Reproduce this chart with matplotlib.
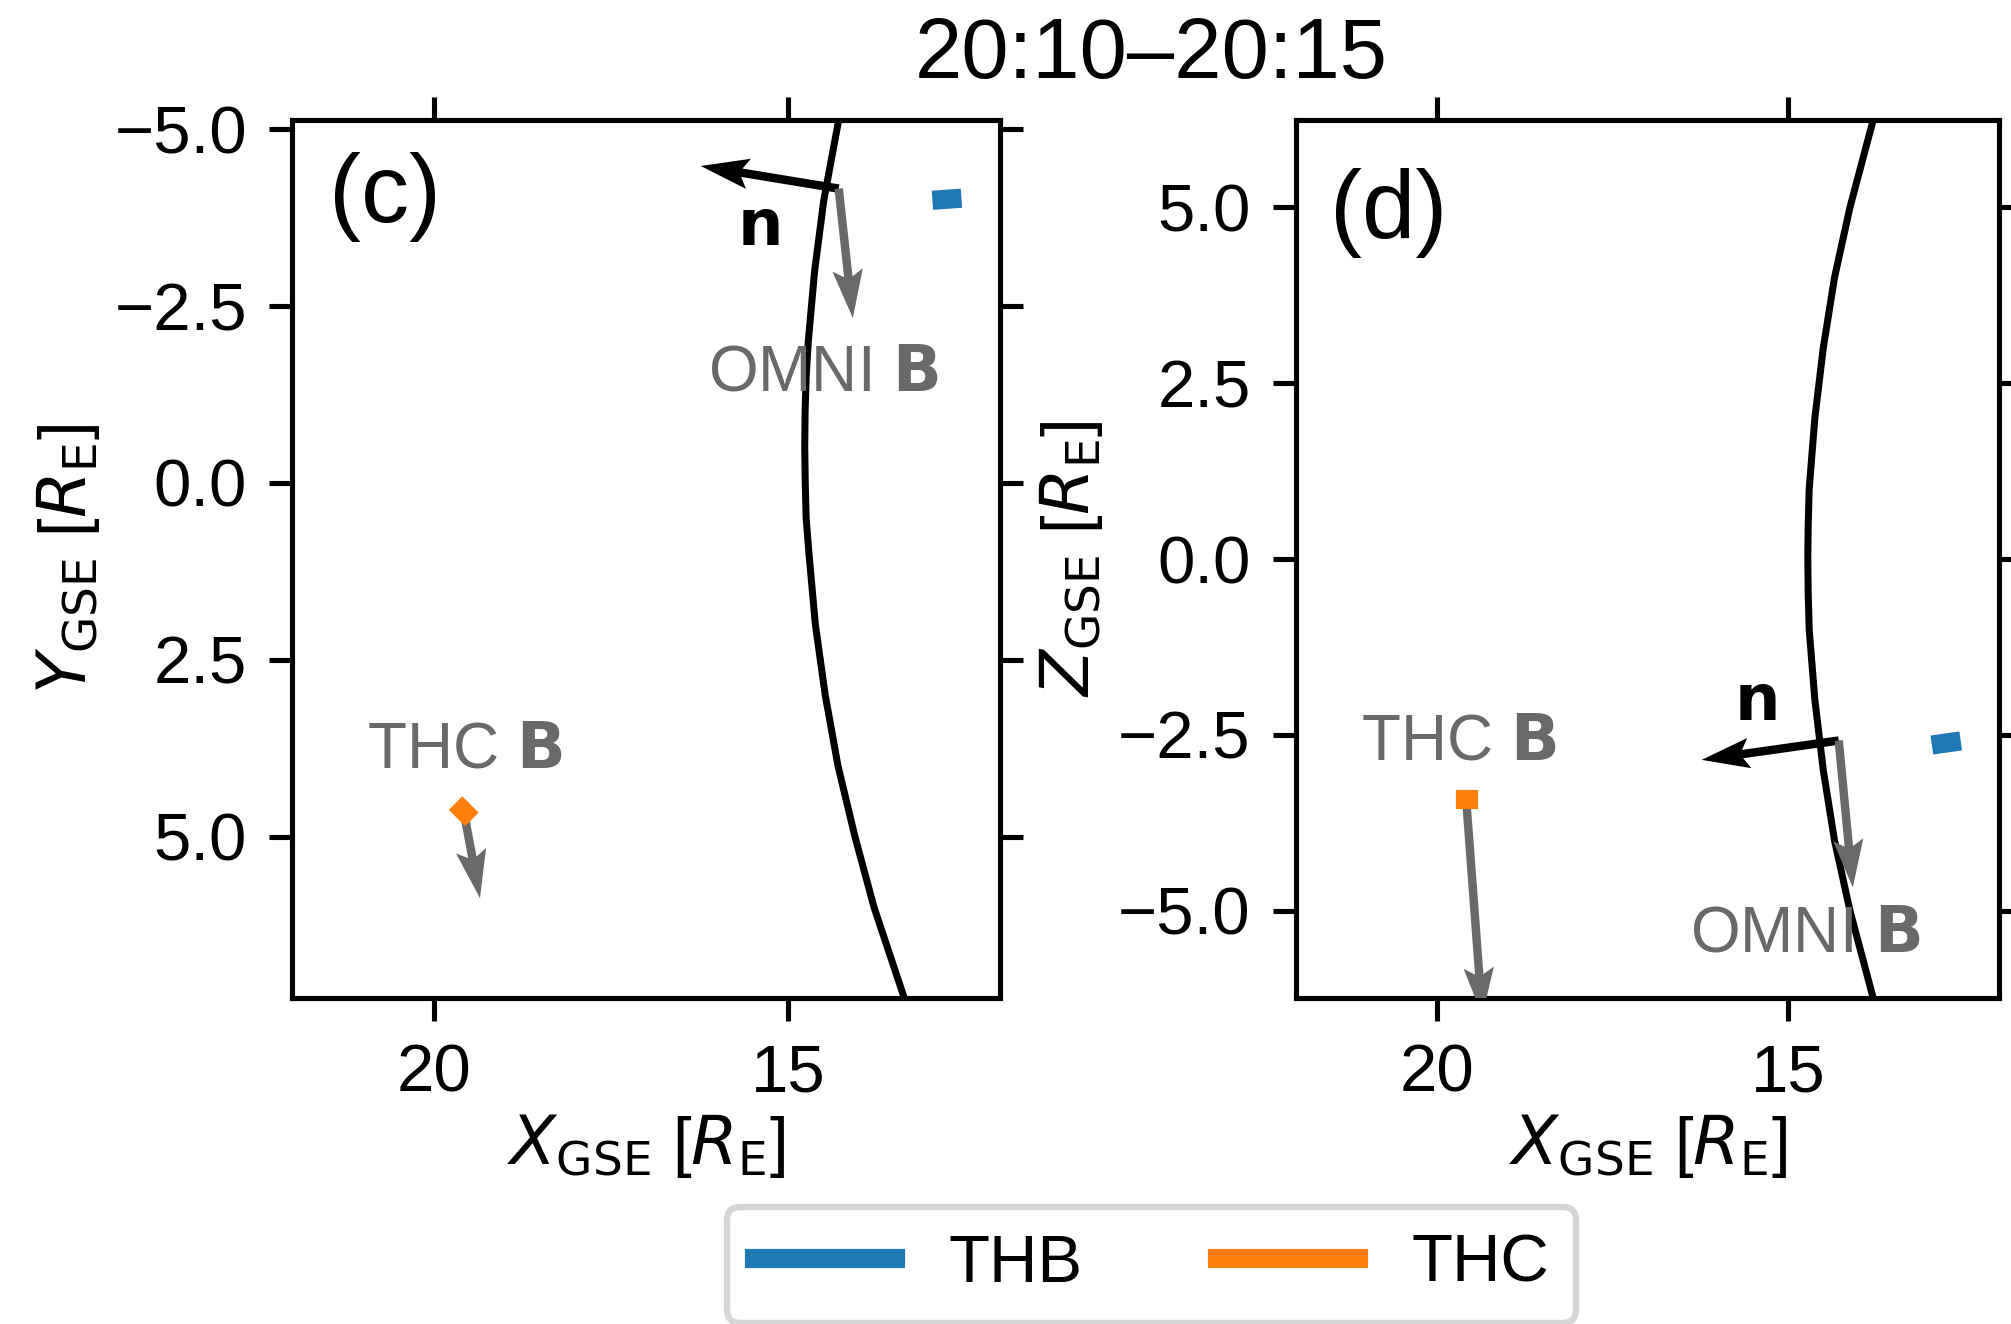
import matplotlib

matplotlib.use("Agg")

from matplotlib import pyplot as plt  # noqa: E402

plt.rcParams["font.family"] = ["Liberation Sans", "DejaVu Sans"]
plt.rcParams["mathtext.fontset"] = "dejavusans"

DPI = 460
WIDTH_PX, HEIGHT_PX = 2011, 1324

GREY = "dimgray"
THB_COLOR = "#1f77b4"
THC_COLOR = "#ff7f0e"

TITLE = "20:10–20:15"
X_TICKS = [20, 15]
SIDE_TICKS = [-5.0, -2.5, 0.0, 2.5, 5.0]

# bow shock cut through the X-Y plane (GSE, R_E)
SHOCK_XY_Y = [-5.13, -4, -3, -2, -1.5, -1, -0.5, 0, 0.5, 1, 2, 3, 4, 5, 6, 7.29]
SHOCK_XY_X = [14.28, 14.49, 14.62, 14.71, 14.74, 14.755, 14.76, 14.753, 14.74,
              14.70, 14.61, 14.47, 14.29, 14.05, 13.78, 13.35]
# bow shock cut through the X-Z plane
SHOCK_XZ_Z = [-6.24, -5, -4, -3, -2, -1, -0.5, 0, 0.5, 1, 2, 3, 4, 5, 6.24]
SHOCK_XZ_X = [13.79, 14.12, 14.34, 14.50, 14.62, 14.70, 14.714, 14.72, 14.714,
              14.70, 14.62, 14.50, 14.34, 14.12, 13.79]

# probe tracks over the 5 min interval
THB_X = [12.82, 12.68]
THB_Y = [-4.005, -4.015]
THB_Z = [-2.625, -2.605]
THC_X = [19.60, 19.56]
THC_Y = [4.62, 4.66]
THC_Z = [-3.41, -3.41]

# shock normal and field directions (x, y, z), scaled for display
SHOCK_POINT = [14.28, -4.16, -2.58]
THC_POINT = [19.58, 4.64, -3.41]
NORMAL = [1.95, -0.32, -0.275]
OMNI_B = [-0.20, 1.83, -2.09]
THC_B = [-0.23, 1.23, -3.08]


def _arrow(axis, origin, vector, color):
    axis.quiver(
        [origin[0]], [origin[1]], [vector[0]], [vector[1]],
        angles="xy", scale_units="xy", scale=1, color=color,
        width=0.012, headwidth=3.6, headlength=5.7, headaxislength=4.9,
        zorder=3,
    )


def _style_axis(axis, ylabel, ylim):
    axis.set_xlim(22, 12)
    axis.set_ylim(*ylim)
    axis.set_xticks(X_TICKS)
    axis.set_yticks(SIDE_TICKS)
    axis.tick_params(top=True, right=True, labelsize=10.5, length=3.6, width=0.8)
    axis.set_xlabel(r"$X_\mathrm{GSE}$ [$R_\mathrm{E}$]", fontsize=10.5, labelpad=1)
    axis.set_ylabel(ylabel, fontsize=10.5, labelpad=2)


fig = plt.figure(figsize=(WIDTH_PX / DPI, HEIGHT_PX / DPI), dpi=DPI)
ax_xy = fig.add_axes([0.14545, 0.24622, 0.35182, 0.66314])
ax_xz = fig.add_axes([0.64446, 0.24622, 0.34958, 0.66314])

# (c) X-Y plane, Y axis pointing down
_style_axis(ax_xy, r"$Y_\mathrm{GSE}$ [$R_\mathrm{E}$]", (7.28, -5.13))
ax_xy.plot(SHOCK_XY_X, SHOCK_XY_Y, color="black", linewidth=1.1, zorder=2)
thb_line, = ax_xy.plot(THB_X, THB_Y, color=THB_COLOR, linewidth=3, zorder=4)
thc_line, = ax_xy.plot(THC_X, THC_Y, color=THC_COLOR, linewidth=3, zorder=4)
_arrow(ax_xy, (SHOCK_POINT[0], SHOCK_POINT[1]), (NORMAL[0], NORMAL[1]), "black")
_arrow(ax_xy, (SHOCK_POINT[0], SHOCK_POINT[1]), (OMNI_B[0], OMNI_B[1]), GREY)
_arrow(ax_xy, (THC_POINT[0], THC_POINT[1]), (THC_B[0], THC_B[1]), GREY)
ax_xy.text(15.42, -3.37, r"$\mathbf{n}$", fontsize=10, ha="center", va="baseline")
ax_xy.text(14.49, -1.31, r"OMNI $\mathbf{B}$", color=GREY, fontsize=10,
           ha="center", va="baseline")
ax_xy.text(19.56, 4.02, r"THC $\mathbf{B}$", color=GREY, fontsize=10,
           ha="center", va="baseline")
ax_xy.text(0.051, 0.912, "(c)", transform=ax_xy.transAxes, fontsize=15,
           ha="left", va="center")

# (d) X-Z plane
_style_axis(ax_xz, r"$Z_\mathrm{GSE}$ [$R_\mathrm{E}$]", (-6.24, 6.24))
ax_xz.plot(SHOCK_XZ_X, SHOCK_XZ_Z, color="black", linewidth=1.1, zorder=2)
ax_xz.plot(THB_X, THB_Z, color=THB_COLOR, linewidth=3, zorder=4)
ax_xz.plot(THC_X, THC_Z, color=THC_COLOR, linewidth=3, zorder=4)
_arrow(ax_xz, (SHOCK_POINT[0], SHOCK_POINT[2]), (NORMAL[0], NORMAL[2]), "black")
_arrow(ax_xz, (SHOCK_POINT[0], SHOCK_POINT[2]), (OMNI_B[0], OMNI_B[2]), GREY)
_arrow(ax_xz, (THC_POINT[0], THC_POINT[2]), (THC_B[0], THC_B[2]), GREY)
ax_xz.text(15.47, -2.29, r"$\mathbf{n}$", fontsize=10, ha="center", va="baseline")
ax_xz.text(14.76, -5.58, r"OMNI $\mathbf{B}$", color=GREY, fontsize=10,
           ha="center", va="baseline")
ax_xz.text(19.68, -2.845, r"THC $\mathbf{B}$", color=GREY, fontsize=10,
           ha="center", va="baseline")
ax_xz.text(0.048, 0.894, "(d)", transform=ax_xz.transAxes, fontsize=15,
           ha="left", va="center")

fig.text(0.5726, 1 - 78 / HEIGHT_PX, TITLE, fontsize=13.3, ha="center", va="baseline")

fig.legend(
    [thb_line, thc_line], ["THB", "THC"],
    loc="upper center", bbox_to_anchor=(0.5726, 1 - 1207 / HEIGHT_PX),
    ncol=2, borderaxespad=0, handlelength=2.1, fontsize=10.5,
)

fig.savefig("out.png", dpi=DPI)
